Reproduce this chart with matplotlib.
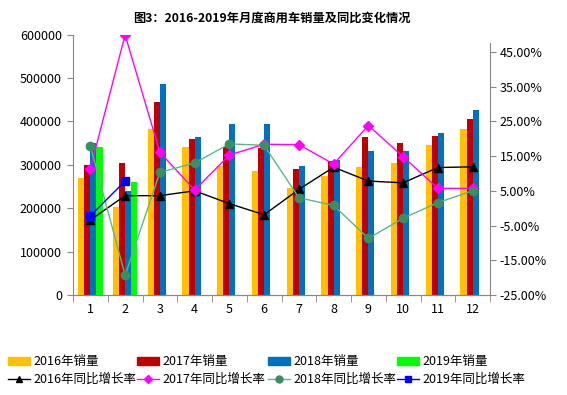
import matplotlib
matplotlib.use("Agg")
import matplotlib.pyplot as plt
import numpy as np
from matplotlib.lines import Line2D
from matplotlib.patches import Patch

plt.rcParams['font.family'] = ['Noto Sans CJK SC', 'DejaVu Sans']

months = ['1', '2', '3', '4', '5', '6', '7', '8', '9', '10', '11', '12']
sales_2016 = [270000, 202000, 382000, 340000, 298000, 285000, 247000, 275000, 295000, 304000, 346000, 382000]
sales_2017 = [299000, 304000, 444000, 359000, 342000, 339000, 290000, 308000, 364000, 350000, 366000, 405000]
sales_2018 = [350000, 239000, 486000, 363000, 395000, 395000, 297000, 310000, 331000, 331000, 372000, 426000]
sales_2019 = [342000, 260000]
yoy_2016 = [-3.4, 3.6, 3.6, 5.0, 1.3, -1.9, 5.4, 11.8, 7.8, 7.3, 11.7, 11.9]
yoy_2017 = [11.4, 49.9, 16.1, 5.2, 15.3, 18.4, 18.3, 12.7, 23.8, 14.8, 5.7, 5.7]
yoy_2018 = [17.9, -19.3, 10.3, 13.0, 18.5, 18.1, 3.0, 0.8, -8.7, -2.9, 1.6, 5.0]
yoy_2019 = [-2.2, 7.8]

W, H = 567, 395
fig = plt.figure(figsize=(W/100, H/100), dpi=100)
ax = fig.add_axes([73/W, 1-295/H, (490-73)/W, (295-34.5)/H])
ax2 = ax.twinx()

x = np.arange(len(months))
bw = 0.175
bar_colors = ['#FFC000', '#C00000', '#0070C0', '#00FF00']
series = [sales_2016, sales_2017, sales_2018, sales_2019]
for i, (s, c) in enumerate(zip(series, bar_colors)):
    xs = x[:len(s)] + (i - 1.5) * bw
    ax.bar(xs, s, width=bw, color=c, linewidth=0, zorder=2)

gray = '#888888'
ax.set_xlim(-0.5, 11.5)
ax.set_ylim(0, 600000)
ax.set_yticks(np.arange(0, 600001, 100000))
ax.set_yticklabels([str(v) for v in range(0, 600001, 100000)], fontsize=9)
ax.set_xticks(x)
ax.set_xticklabels(months, fontsize=9)
ax.set_xticks(np.arange(-0.5, 12, 1), minor=True)
ax.tick_params(axis='x', which='major', length=0, pad=6)
ax.tick_params(axis='x', which='minor', length=5, color=gray)
ax.tick_params(axis='y', length=4, color=gray, pad=4)

for a in (ax, ax2):
    a.spines['top'].set_visible(False)
    a.spines['left'].set_color(gray)
    a.spines['right'].set_color(gray)
    a.spines['bottom'].set_color(gray)
ax.spines['right'].set_visible(False)

ax2.set_ylim(-25, 50)
yt = np.arange(-25, 46, 10)
ax2.set_yticks(yt)
ax2.set_yticklabels(['%.2f%%' % v for v in yt], fontsize=9)
ax2.tick_params(axis='y', length=4, color=gray, pad=3)
ax2.spines['left'].set_visible(False)
ax2.spines['right'].set_bounds(-25, 47.5)

lw = 1.0
ax2.plot(x, yoy_2016, color='black', lw=lw, marker='^', ms=6, zorder=3)
ax2.plot(x, yoy_2017, color='#FF00FF', lw=lw, marker='D', ms=5, zorder=3)
ax2.plot(x, yoy_2018, color='#5BB88A', lw=lw, marker='o', ms=6, mfc='#3A8F62', mec='#3A8F62', zorder=3)
ax2.plot(x[:len(yoy_2019)], yoy_2019, color='#0000FF', lw=lw, marker='s', ms=6, zorder=4)

fig.text(272/W, 1-18/H, '图3：2016-2019年月度商用车销量及同比变化情况', ha='center', va='center',
         fontsize=8.8, fontweight='bold')

col_handles = [
    (Patch(color=bar_colors[0]), Line2D([], [], color='black', lw=lw, marker='^', ms=5)),
    (Patch(color=bar_colors[1]), Line2D([], [], color='#FF00FF', lw=lw, marker='D', ms=4)),
    (Patch(color=bar_colors[2]), Line2D([], [], color='#5BB88A', lw=lw, marker='o', ms=5, mfc='#3A8F62', mec='#3A8F62')),
    (Patch(color=bar_colors[3]), Line2D([], [], color='#0000FF', lw=lw, marker='s', ms=5)),
]
col_labels = [('2016年销量', '2016年同比增长率'), ('2017年销量', '2017年同比增长率'),
              ('2018年销量', '2018年同比增长率'), ('2019年销量', '2019年同比增长率')]
col_x = [8, 137, 268, 397]
for hx, hs, ls in zip(col_x, col_handles, col_labels):
    leg = fig.legend(list(hs), list(ls), loc='upper left', bbox_to_anchor=(hx/W, 1-355/H),
                     frameon=False, fontsize=9, handlelength=1.75, handleheight=0.6,
                     handletextpad=0.25, labelspacing=0.4, borderpad=0, borderaxespad=0)

fig.savefig('out.png', dpi=100)
